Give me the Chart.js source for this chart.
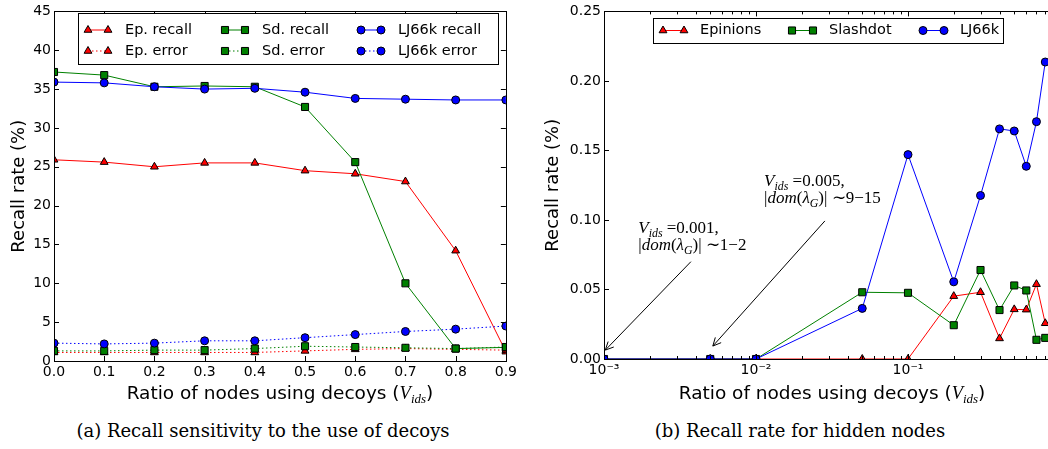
<!DOCTYPE html>
<html>
<head>
<meta charset="utf-8">
<script src="https://cdn.jsdelivr.net/npm/chart.js@4.4.1/dist/chart.umd.min.js"></script>
<style>
    html, body { margin: 0; padding: 0; overflow: hidden; background: #fff; }
    body { position: relative; width: 1048px; height: 449px; }
    #graficoIscas { position: absolute; left: 0; top: 0; }
    #graficoOcultos { position: absolute; left: 530px; top: 0; }
    .subtitulo {
        position: absolute; top: 420px; line-height: 22px; text-align: center;
        font-family: 'DejaVu Serif', serif; font-size: 18px; color: #000;
    }
</style>
</head>
<body>
<canvas id="graficoIscas" width="520" height="410"></canvas>
<canvas id="graficoOcultos" width="545" height="410"></canvas>
<div class="subtitulo" style="left:0; width:526px;">(a) Recall sensitivity to the use of decoys</div>
<div class="subtitulo" style="left:600px; width:400px;">(b) Recall rate for hidden nodes</div>

<script>
// Gráfico (a): recall e erro em função da razão de nós usando iscas
const razoes = [0.0, 0.1, 0.2, 0.3, 0.4, 0.5, 0.6, 0.7, 0.8, 0.9];
const epRecall = [25.9, 25.6, 25.0, 25.5, 25.5, 24.5, 24.1, 23.1, 14.2, 1.2];
const epErro = [1.1, 1.1, 1.1, 1.1, 1.1, 1.3, 1.5, 1.6, 1.5, 1.4];
const sdRecall = [37.2, 36.8, 35.3, 35.4, 35.3, 32.7, 25.6, 10.0, 1.6, 1.75];
const sdErro = [1.3, 1.3, 1.4, 1.4, 1.6, 1.9, 1.8, 1.7, 1.6, 1.8];
const ljRecall = [35.9, 35.8, 35.3, 35.0, 35.1, 34.6, 33.8, 33.7, 33.6, 33.6];
const ljErro = [2.3, 2.2, 2.3, 2.6, 2.6, 3.0, 3.4, 3.8, 4.1, 4.5];

// Gráfico (b): taxa de recall para nós ocultos (eixo x logarítmico)
const vids = [0.001, 0.005, 0.01, 0.05, 0.1, 0.2, 0.3, 0.4, 0.5, 0.6, 0.7, 0.8];
const epinions = [0, 0, 0, 0, 0, 0.0452, 0.048, 0.0148, 0.0357, 0.0355, 0.0538, 0.0257];
const slashdot = [0, 0, 0, 0.048, 0.0476, 0.0243, 0.064, 0.0352, 0.0529, 0.0493, 0.0138, 0.0152];
const lj66k = [0, 0, 0, 0.0364, 0.147, 0.0555, 0.1176, 0.1655, 0.164, 0.1386, 0.1707, 0.2136];

// Marcas do eixo log: potências de 10 recebem rótulo, o resto é marca menor
const marcasLog = [
    0.001, 0.002, 0.003, 0.004, 0.005, 0.006, 0.007, 0.008, 0.009,
    0.01, 0.02, 0.03, 0.04, 0.05, 0.06, 0.07, 0.08, 0.09,
    0.1, 0.2, 0.3, 0.4, 0.5, 0.6, 0.7, 0.8, 0.9, 1
];
const rotulosLog = { 0.001: '10⁻³', 0.01: '10⁻²', 0.1: '10⁻¹', 1: '10⁰' };

Chart.defaults.font.family = "'DejaVu Sans'";
Chart.defaults.color = '#000';

const SANS = "'DejaVu Sans'";
const SERIF = "'Liberation Serif'";

function pontos(xs, ys) {
    return xs.map((x, i) => ({ x: x, y: ys[i] }));
}

// Estilo de cada série (linha + marcador com borda preta)
function serie(label, xs, ys, cor, marcador, pontilhado, ordem) {
    return {
        label: label,
        data: pontos(xs, ys),
        borderColor: cor,
        borderWidth: 1,
        borderDash: pontilhado ? [1.5, 2.5] : [],
        pointStyle: marcador,
        pointRadius: marcador === 'rect' ? 5 : (marcador === 'triangle' ? 4.5 : 4),
        pointBackgroundColor: cor,
        pointBorderColor: '#000',
        pointBorderWidth: 1,
        pointHoverRadius: 4,
        tension: 0,
        clip: 0,
        order: ordem
    };
}

// Desenha pedaços de texto (normal, itálico, subscrito) lado a lado
function fonteTrecho(p, tam) {
    const t = p.sub ? tam * 0.7 : tam;
    return (p.it ? 'italic ' : '') + t + 'px ' + (p.fam || SANS);
}
function larguraTrechos(ctx, trechos, tam) {
    return trechos.reduce((soma, p) => {
        ctx.font = fonteTrecho(p, tam);
        return soma + ctx.measureText(p.t).width;
    }, 0);
}
function desenharTrechos(ctx, trechos, x, y, tam) {
    ctx.textBaseline = 'alphabetic';
    ctx.textAlign = 'left';
    trechos.forEach(p => {
        ctx.font = fonteTrecho(p, tam);
        ctx.fillText(p.t, x, p.sub ? y + tam * 0.22 : y);
        x += ctx.measureText(p.t).width;
    });
}

// Moldura preta em volta da área do gráfico com marcas para dentro
const moldura = {
    id: 'moldura',
    afterDraw(chart, args, opts) {
        const { ctx, chartArea: a } = chart;
        const sx = chart.scales.x, sy = chart.scales.y;
        ctx.save();
        ctx.strokeStyle = '#000';
        ctx.lineWidth = 1;
        ctx.setLineDash([]);
        ctx.beginPath();
        sx.ticks.forEach(t => {
            const px = Math.round(sx.getPixelForValue(t.value)) + 0.5;
            const tam = opts.logX && !rotulosLog[t.value] ? 3 : 5;
            ctx.moveTo(px, a.bottom); ctx.lineTo(px, a.bottom - tam);
            ctx.moveTo(px, a.top); ctx.lineTo(px, a.top + tam);
        });
        sy.ticks.forEach(t => {
            const py = Math.round(sy.getPixelForValue(t.value)) + 0.5;
            ctx.moveTo(a.left, py); ctx.lineTo(a.left + 5, py);
            ctx.moveTo(a.right, py); ctx.lineTo(a.right - 5, py);
        });
        ctx.stroke();
        ctx.strokeRect(Math.round(a.left) + 0.5, Math.round(a.top) + 0.5,
            Math.round(a.right - a.left), Math.round(a.bottom - a.top));
        ctx.restore();
    }
};

// Legenda em caixa, com dois marcadores por amostra
const legendaCaixa = {
    id: 'legendaCaixa',
    afterDraw(chart, args, opts) {
        const ctx = chart.ctx;
        const [x0, y0, x1, y1] = opts.caixa;
        ctx.save();
        ctx.fillStyle = '#fff';
        ctx.fillRect(x0, y0, x1 - x0, y1 - y0);
        ctx.strokeStyle = '#000';
        ctx.lineWidth = 1;
        ctx.strokeRect(x0 + 0.5, y0 + 0.5, x1 - x0, y1 - y0);
        opts.itens.forEach(([indice, col, lin]) => {
            const d = chart.data.datasets[indice];
            const x = opts.colunas[col], y = opts.linhas[lin];
            ctx.strokeStyle = d.borderColor;
            ctx.lineWidth = d.borderWidth;
            ctx.setLineDash(d.borderDash);
            ctx.beginPath();
            ctx.moveTo(x, y);
            ctx.lineTo(x + opts.amostra, y);
            ctx.stroke();
            ctx.setLineDash([]);
            [x, x + opts.amostra].forEach(px => {
                ctx.fillStyle = d.pointBackgroundColor;
                ctx.strokeStyle = d.pointBorderColor;
                ctx.lineWidth = d.pointBorderWidth;
                Chart.helpers.drawPoint(ctx, {
                    pointStyle: d.pointStyle, rotation: 0,
                    radius: d.pointRadius, borderWidth: d.pointBorderWidth
                }, px, y);
            });
            ctx.fillStyle = '#000';
            ctx.font = opts.fonte;
            ctx.textBaseline = 'middle';
            ctx.textAlign = 'left';
            ctx.fillText(d.label, x + opts.texto, y);
        });
        ctx.restore();
    }
};

// Título do eixo x com V_ids em itálico
const rotuloX = {
    id: 'rotuloX',
    afterDraw(chart, args, opts) {
        const { ctx, chartArea: a } = chart;
        const trechos = [
            { t: 'Ratio of nodes using decoys (' },
            { t: 'V', it: true, fam: SERIF },
            { t: 'ids', it: true, sub: true, fam: SERIF },
            { t: ')' }
        ];
        ctx.save();
        ctx.fillStyle = '#000';
        const w = larguraTrechos(ctx, trechos, 18.5);
        desenharTrechos(ctx, trechos, (a.left + a.right) / 2 - w / 2, opts.base, 18.5);
        ctx.restore();
    }
};

// Anotações com seta (coordenadas em valores dos eixos)
const notas = [
    {
        texto: [
            [{ t: 'V', it: true, fam: SERIF }, { t: 'ids', it: true, sub: true, fam: SERIF }, { t: ' =0.001,', fam: SERIF }],
            [{ t: '|', fam: SERIF }, { t: 'dom', it: true, fam: SERIF }, { t: '(', fam: SERIF }, { t: 'λ', it: true, fam: SERIF },
             { t: 'G', it: true, sub: true, fam: SERIF }, { t: ')| ∼1−2', fam: SERIF }]
        ],
        x: 0.00168, y: 0.0905,
        seta: [0.00373, 0.070, 0.00102, 0.0064]
    },
    {
        texto: [
            [{ t: 'V', it: true, fam: SERIF }, { t: 'ids', it: true, sub: true, fam: SERIF }, { t: ' =0.005,', fam: SERIF }],
            [{ t: '|', fam: SERIF }, { t: 'dom', it: true, fam: SERIF }, { t: '(', fam: SERIF }, { t: 'λ', it: true, fam: SERIF },
             { t: 'G', it: true, sub: true, fam: SERIF }, { t: ')| ∼9−15', fam: SERIF }]
        ],
        x: 0.0113, y: 0.1243,
        seta: [0.0284, 0.0993, 0.0052, 0.0093]
    }
];

const anotacoes = {
    id: 'anotacoes',
    afterDraw(chart) {
        const { ctx } = chart;
        const sx = chart.scales.x, sy = chart.scales.y;
        ctx.save();
        ctx.fillStyle = '#000';
        ctx.strokeStyle = '#000';
        ctx.lineWidth = 1;
        notas.forEach(n => {
            const tx = sx.getPixelForValue(n.x), ty = sy.getPixelForValue(n.y);
            n.texto.forEach((linha, i) => desenharTrechos(ctx, linha, tx, ty + i * 17, 17));
            const [ax, ay, bx, by] = n.seta;
            const x1 = sx.getPixelForValue(ax), y1 = sy.getPixelForValue(ay);
            const x2 = sx.getPixelForValue(bx), y2 = sy.getPixelForValue(by);
            const ang = Math.atan2(y2 - y1, x2 - x1);
            ctx.beginPath();
            ctx.moveTo(x1, y1);
            ctx.lineTo(x2, y2);
            [0.45, -0.45].forEach(d => {
                ctx.moveTo(x2, y2);
                ctx.lineTo(x2 - 9 * Math.cos(ang + d), y2 - 9 * Math.sin(ang + d));
            });
            ctx.stroke();
        });
        ctx.restore();
    }
};

// ---- Gráfico (a) ----
const ctxIscas = document.getElementById('graficoIscas').getContext('2d');
const graficoIscas = new Chart(ctxIscas, {
    type: 'line',
    data: {
        datasets: [
            serie('Ep. recall', razoes, epRecall, '#ff0000', 'triangle', false, 6),
            serie('Ep. error', razoes, epErro, '#ff0000', 'triangle', true, 5),
            serie('Sd. recall', razoes, sdRecall, '#008000', 'rect', false, 4),
            serie('Sd. error', razoes, sdErro, '#008000', 'rect', true, 3),
            serie('LJ66k recall', razoes, ljRecall, '#0000ff', 'circle', false, 2),
            serie('LJ66k error', razoes, ljErro, '#0000ff', 'circle', true, 1)
        ]
    },
    options: {
        responsive: false,
        animation: false,
        devicePixelRatio: 1,
        layout: { padding: { top: 10, right: 12, left: 0, bottom: 0 } },
        scales: {
            x: {
                type: 'linear', min: 0, max: 0.9,
                grid: { display: false, drawTicks: false },
                border: { display: false },
                ticks: { stepSize: 0.1, padding: 3, font: { size: 14 }, maxRotation: 0, autoSkip: false,
                         callback: v => v.toFixed(1) },
                afterFit: s => { s.height = 49; }
            },
            y: {
                min: 0, max: 45,
                grid: { display: false, drawTicks: false },
                border: { display: false },
                ticks: { stepSize: 5, padding: 3, font: { size: 14 } },
                title: { display: true, text: 'Recall rate (%)', font: { size: 18 }, padding: { top: 9, bottom: 0 } },
                afterFit: s => { s.width = 54; }
            }
        },
        plugins: {
            legend: { display: false },
            tooltip: { enabled: false },
            rotuloX: { base: 399 },
            legendaCaixa: {
                caixa: [78, 13, 498, 64],
                colunas: [88, 225, 361],
                linhas: [30, 51],
                amostra: 20,
                texto: 37,
                fonte: "14.5px 'DejaVu Sans'",
                itens: [[0, 0, 0], [1, 0, 1], [2, 1, 0], [3, 1, 1], [4, 2, 0], [5, 2, 1]]
            }
        }
    },
    plugins: [moldura, rotuloX, legendaCaixa]
});

// ---- Gráfico (b) ----
const ctxOcultos = document.getElementById('graficoOcultos').getContext('2d');
const graficoOcultos = new Chart(ctxOcultos, {
    type: 'line',
    data: {
        datasets: [
            serie('Epinions', vids, epinions, '#ff0000', 'triangle', false, 3),
            serie('Slashdot', vids, slashdot, '#008000', 'rect', false, 2),
            serie('LJ66k', vids, lj66k, '#0000ff', 'circle', false, 1)
        ]
    },
    options: {
        responsive: false,
        animation: false,
        devicePixelRatio: 1,
        layout: { padding: { top: 10, right: 15, left: 0, bottom: 0 } },
        scales: {
            x: {
                type: 'logarithmic', min: 0.001, max: 1,
                grid: { display: false, drawTicks: false },
                border: { display: false },
                afterBuildTicks: s => { s.ticks = marcasLog.map(v => ({ value: v })); },
                ticks: { padding: 3, font: { size: 14 }, maxRotation: 0, autoSkip: false,
                         callback: v => rotulosLog[v] || '' },
                afterFit: s => { s.height = 51; }
            },
            y: {
                min: 0, max: 0.25,
                grid: { display: false, drawTicks: false },
                border: { display: false },
                ticks: { stepSize: 0.05, padding: 3, font: { size: 14 }, callback: v => v.toFixed(2) },
                title: { display: true, text: 'Recall rate (%)', font: { size: 18 }, padding: { top: 13, bottom: 0 } },
                afterFit: s => { s.width = 74; }
            }
        },
        plugins: {
            legend: { display: false },
            tooltip: { enabled: false },
            moldura: { logX: true },
            rotuloX: { base: 399 },
            legendaCaixa: {
                caixa: [123, 18, 473, 43],
                colunas: [133, 262, 393],
                linhas: [30.5],
                amostra: 21,
                texto: 37,
                fonte: "14.5px 'DejaVu Sans'",
                itens: [[0, 0, 0], [1, 1, 0], [2, 2, 0]]
            }
        }
    },
    plugins: [moldura, anotacoes, rotuloX, legendaCaixa]
});
</script>
</body>
</html>
